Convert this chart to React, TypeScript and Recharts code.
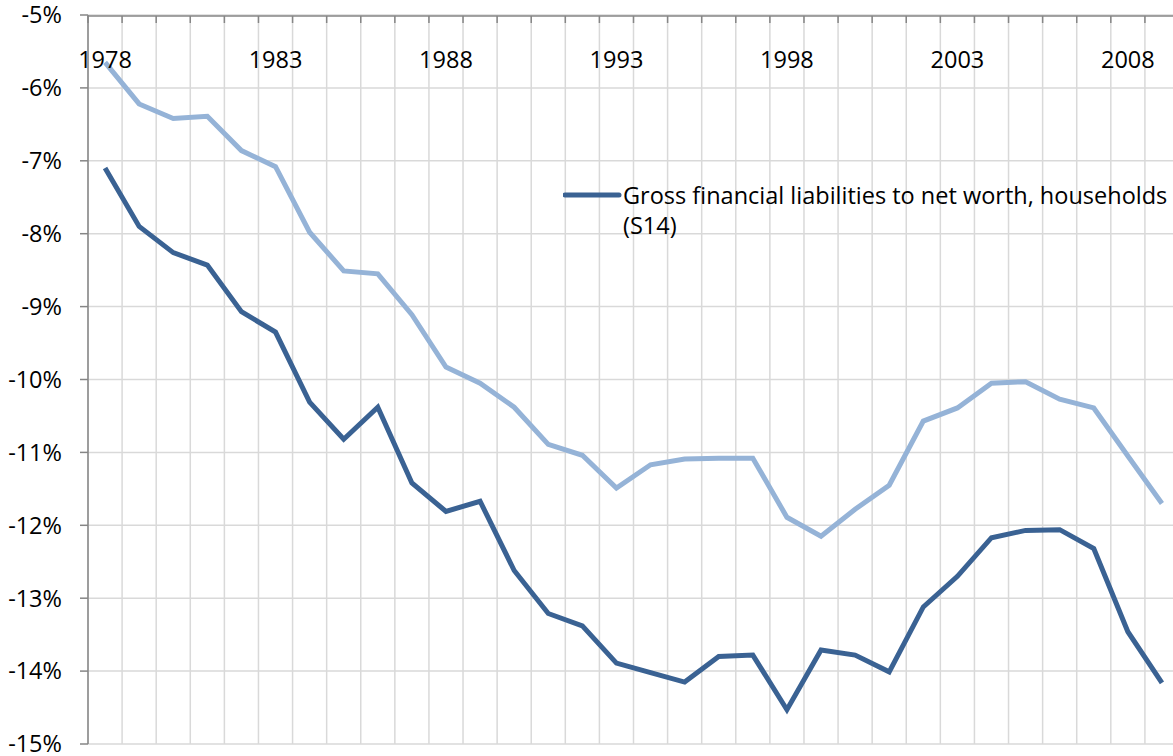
import React from 'react';
import { LineChart, Line, XAxis, YAxis, CartesianGrid, Legend } from 'recharts';

const years = [
  1978, 1979, 1980, 1981, 1982, 1983, 1984, 1985, 1986, 1987, 1988,
  1989, 1990, 1991, 1992, 1993, 1994, 1995, 1996, 1997, 1998, 1999,
  2000, 2001, 2002, 2003, 2004, 2005, 2006, 2007, 2008, 2009,
];

// Gross financial liabilities to net worth, households (S14)
const grossLiabilities = [
  -7.1, -7.9, -8.26, -8.43, -9.07, -9.35, -10.31, -10.82, -10.38, -11.42, -11.81,
  -11.67, -12.62, -13.21, -13.38, -13.89, -14.02, -14.15, -13.8, -13.78, -14.53, -13.71,
  -13.78, -14.01, -13.12, -12.7, -12.17, -12.07, -12.06, -12.32, -13.46, -14.16,
];

// second (unlabelled) series, lighter blue
const otherSeries = [
  -5.65, -6.22, -6.42, -6.39, -6.86, -7.08, -7.98, -8.51, -8.55, -9.11, -9.83,
  -10.05, -10.38, -10.89, -11.04, -11.49, -11.17, -11.09, -11.08, -11.08, -11.89, -12.15,
  -11.78, -11.45, -10.57, -10.39, -10.05, -10.03, -10.27, -10.39, -11.05, -11.7,
];

const yearLabels = [1978, 1983, 1988, 1993, 1998, 2003, 2008];
const yTicks = [-15, -14, -13, -12, -11, -10, -9, -8, -7, -6, -5];

const data = years.map((year, i) => ({
  year,
  gross: grossLiabilities[i],
  other: otherSeries[i],
}));

// category boundaries, for the Excel-style vertical grid
const boundaries = [...years.map((y) => y - 0.5), years[years.length - 1] + 0.5];

const FONT = '"Open Sans", "Noto Sans", sans-serif';
const FS = 23.5;
const DARK = '#3A6293';
const LIGHT = '#95B3D7';
const AXIS = '#868686';

const LegendBox = () => (
  <div style={{ display: 'flex', alignItems: 'flex-start', fontFamily: FONT, fontSize: FS, color: '#000', lineHeight: '30px' }}>
    <svg width={60} height={30} style={{ flex: 'none' }}>
      <line x1={2} y1={15} x2={56} y2={15} stroke={DARK} strokeWidth={5} strokeLinecap="round" />
    </svg>
    <div style={{ whiteSpace: 'nowrap' }}>
      Gross financial liabilities to net worth, households
      <br />
      (S14)
    </div>
  </div>
);

export default function App() {
  return (
    <div style={{ position: 'absolute', left: 0, top: 0, width: 1173, height: 756, overflow: 'hidden', background: '#fff' }}>
      <LineChart width={1180} height={756} data={data} margin={{ top: 15, right: 1, bottom: 12, left: 0 }}>
        <CartesianGrid xAxisId="grid" stroke="#D9D9D9" strokeWidth={1.5} />
        <XAxis
          xAxisId="grid"
          dataKey="year"
          type="number"
          orientation="top"
          mirror
          height={1}
          domain={[1977.5, 2009.5]}
          ticks={boundaries}
          interval={0}
          tickFormatter={() => ''}
          tickSize={7}
          stroke={AXIS}
          strokeWidth={1.5}
          allowDataOverflow
        />
        <XAxis
          dataKey="year"
          type="number"
          orientation="top"
          mirror
          height={1}
          domain={[1977.5, 2009.5]}
          ticks={yearLabels}
          interval={0}
          axisLine={false}
          tickLine={false}
          tickSize={0}
          tickMargin={36}
          tick={{ fill: '#000', fontSize: FS, fontFamily: FONT }}
          allowDataOverflow
        />
        <YAxis
          domain={[-15, -5]}
          ticks={yTicks}
          interval={0}
          width={88}
          tickSize={8}
          tickMargin={18}
          tickFormatter={(v) => `${v}%`}
          stroke={AXIS}
          strokeWidth={1.5}
          tick={{ fill: '#000', fontSize: FS, fontFamily: FONT }}
          allowDataOverflow
        />
        <Legend
          layout="horizontal"
          verticalAlign="middle"
          align="center"
          content={<LegendBox />}
          wrapperStyle={{ position: 'absolute', left: 563, top: 180, width: 610 }}
        />
        <Line dataKey="other" stroke={LIGHT} strokeWidth={5} dot={false} isAnimationActive={false} legendType="none" />
        <Line dataKey="gross" stroke={DARK} strokeWidth={5} dot={false} isAnimationActive={false} />
      </LineChart>
    </div>
  );
}
